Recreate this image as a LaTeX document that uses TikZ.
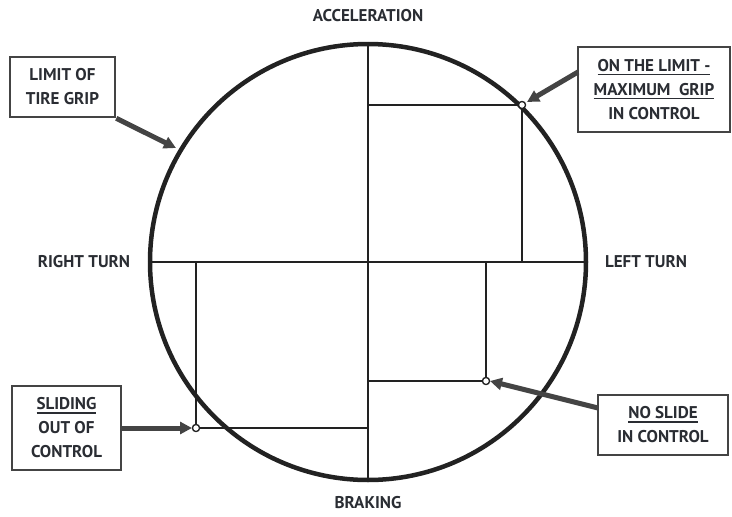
\documentclass[tikz,border=0pt]{standalone}
\usepackage{fontspec}
\setmainfont{PT Sans}
\usetikzlibrary{arrows.meta}
\definecolor{txt}{HTML}{2A2D33}
\definecolor{ring}{HTML}{222222}
\definecolor{boxc}{HTML}{444444}
\newcommand\myul[1]{\setbox0\hbox{#1}\rlap{\rule[-4pt]{\wd0}{1.8pt}}\box0}
\begin{document}
\begin{tikzpicture}[x=1pt,y=-1pt,
  lbl/.style={font=\bfseries\fontsize{17}{24}\selectfont, text=txt, inner sep=0pt},
  callout/.style={draw=boxc, line width=2.6pt, fill=white, align=center,
    font=\bfseries\fontsize{17}{24}\selectfont, text=txt, inner sep=0pt},
  arr/.style={draw=boxc, line width=5pt, -{Triangle[length=12pt,width=12pt]}},
  grid/.style={draw=ring, line width=2.4pt},
  dot/.style={circle, draw=ring, fill=white, line width=1.2pt, minimum size=7pt, inner sep=0pt}]
\useasboundingbox (0,0) rectangle (732,517);
\node[circle, draw=ring, line width=4.5pt, minimum size=436pt, inner sep=0pt] (c) at (368,262) {};
\draw[grid] (c.north) -- (c.south);
\draw[grid] (c.west) -- (c.east);
\node[dot] (p1) at (522,105) {};
\node[dot] (p2) at (196,428) {};
\node[dot] (p3) at (486,381) {};
\coordinate (a1) at (368,105);
\coordinate (b1) at (522,262);
\coordinate (a2) at (196,262);
\coordinate (b2) at (368,428);
\coordinate (a3) at (486,262);
\coordinate (b3) at (368,381);
\draw[grid] (a1) -- (p1) -- (b1);
\draw[grid] (a2) -- (p2) -- (b2);
\draw[grid] (a3) -- (p3) -- (b3);
\node[dot] at (p1) {};
\node[dot] at (p2) {};
\node[dot] at (p3) {};
\node[lbl] (acc) at (368,16) {ACCELERATION};
\node[lbl] (brk) at (368,503) {BRAKING};
\node[lbl] (rt) at (84,262) {RIGHT TURN};
\node[lbl] (lt) at (646,262) {LEFT TURN};
\node[callout, minimum width=105pt, minimum height=60pt] (lim) at (62.5,87) {LIMIT OF\\TIRE GRIP};
\node[callout, minimum width=152pt, minimum height=85pt] (onl) at (654,89.5) {\myul{ON THE LIMIT -}\\\myul{MAXIMUM~~GRIP}\\IN CONTROL};
\node[callout, minimum width=109pt, minimum height=84pt] (sld) at (66.5,428) {\myul{SLIDING}\\OUT OF\\CONTROL};
\node[callout, minimum width=130pt, minimum height=60pt] (nos) at (663,425) {\myul{NO SLIDE}\\IN CONTROL};
\coordinate (t1) at (176,148);
\coordinate (s2) at (578,72);
\coordinate (t2) at (527,102);
\coordinate (t3) at (192,428);
\coordinate (s4) at (598,408);
\coordinate (t4) at (490,381);
\draw[arr] (lim.south east) -- (t1);
\draw[arr] (s2) -- (t2);
\draw[arr] (sld.east) -- (t3);
\draw[arr] (s4) -- (t4);
\end{tikzpicture}
\end{document}
